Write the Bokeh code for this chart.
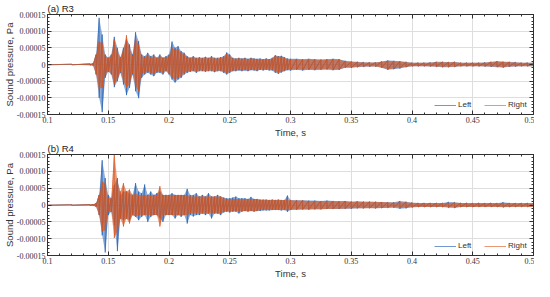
import numpy as np
from bokeh.plotting import figure
from bokeh.layouts import column
from bokeh.models import (FixedTicker, LinearAxis, Range1d, Legend, LegendItem,
                          CustomJSTickFormatter)
from bokeh.embed import file_html
from bokeh.resources import INLINE

# ---------------- data (envelope peaks, units of 1e-5 Pa) ----
SCALE = 1e-5
t_pre = [0.100, 0.120, 0.135]
t_fine = [round(v, 4) for v in np.arange(0.1375, 0.30001, 0.0025)]   # 66 read positions
t_coarse = [round(v, 3) for v in np.arange(0.305, 0.50001, 0.005)]   # 40 read positions
time = t_pre + t_fine + t_coarse

# (a) R3 - Left
a_left_up = [0.1, 0.1, 0.2,
             0.3, 3, 14, 9, 3, 2, 3, 8.3, 5, 2.2,
             5, 7.4, 6, 3, 9.7, 7, 3, 2.5, 3.5, 2.5,
             3, 2, 3, 2, 2.5, 3, 6.9, 5, 5.5, 4,
             3.5, 2.5, 2, 2.5, 2, 2.2, 2, 2.3, 2, 2.5,
             2, 2, 2.2, 2.5, 3.6, 3, 2, 1.8, 2, 1.8,
             2, 1.7, 2, 1.8, 1.7, 1.8, 1.6, 1.8, 1.6, 2,
             2.8, 2.5, 2.6, 2.2, 1.8, 1.7,
             1.7, 1.6, 1.7, 1.6, 1.5, 1.6, 1.7, 1.6, 1.1, 0.9,
             0.8, 0.7, 0.6, 0.6, 0.9, 1.2, 1.1, 1.0, 0.8, 0.5,
             0.5, 0.5, 0.6, 0.8, 0.8, 0.7, 0.8, 0.5, 0.5, 0.5,
             0.5, 0.6, 0.8, 1.0, 0.8, 0.8, 0.7, 0.5, 0.5, 0.5]
a_left_lo = [-0.1, -0.1, -0.2,
             -0.3, -3, -10, -14.3, -4, -2.2, -3, -6.8, -5, -2.5,
             -6, -9.2, -7, -3, -8, -10.1, -4, -3, -2.5, -3,
             -3.5, -2.5, -2.5, -3, -2, -3, -4.5, -5.4, -4.5, -4,
             -3, -2.5, -2.2, -2, -2.5, -2, -2, -2.2, -2, -2,
             -2.3, -2, -2, -2.5, -3, -2.5, -2, -2, -1.8, -2,
             -1.8, -2, -1.7, -1.8, -2, -1.6, -1.8, -1.6, -1.8, -1.8,
             -2.5, -2.8, -2.4, -2, -1.7, -1.8,
             -1.6, -1.8, -1.6, -1.7, -1.6, -1.5, -1.7, -1.6, -1.0, -1.0,
             -0.8, -0.7, -0.6, -0.6, -1.0, -1.6, -1.4, -1.2, -0.8, -0.5,
             -0.5, -0.5, -0.6, -0.7, -0.8, -0.8, -0.7, -0.5, -0.5, -0.5,
             -0.5, -0.6, -0.7, -0.8, -0.9, -0.7, -0.6, -0.5, -0.5, -0.5]
# (a) R3 - Right
a_right_up = [0.1, 0.1, 0.2,
              0.3, 3, 6.9, 6.5, 2.5, 2, 2.5, 7.5, 4, 2,
              4.5, 8.8, 5, 2.5, 8, 6, 2.5, 2.2, 3, 2.2,
              2.5, 2, 2.5, 2, 2.2, 2.5, 5, 4.5, 4.5, 3.5,
              3, 2.2, 2, 2.2, 1.8, 2, 1.8, 2, 1.8, 2.2,
              1.8, 1.8, 2, 2.2, 3.2, 2.6, 1.8, 1.7, 1.8, 1.7,
              1.8, 1.6, 1.8, 1.7, 1.6, 1.6, 1.5, 1.7, 1.5, 1.8,
              2.6, 2.3, 2.4, 2, 1.6, 1.6,
              1.6, 1.5, 1.6, 1.5, 1.4, 1.5, 1.6, 1.5, 1.0, 0.8,
              0.7, 0.6, 0.6, 0.6, 0.8, 1.1, 1.0, 0.9, 0.7, 0.5,
              0.5, 0.5, 0.5, 0.7, 0.7, 0.7, 0.7, 0.5, 0.5, 0.5,
              0.5, 0.5, 0.7, 0.9, 0.8, 0.7, 0.6, 0.5, 0.5, 0.5]
a_right_lo = [-0.1, -0.1, -0.2,
              -0.3, -3, -7.3, -7, -3, -2, -2.5, -6, -4.5, -2.2,
              -5, -7, -6, -2.5, -6.5, -8, -3, -2.5, -2.2, -2.5,
              -3, -2.2, -2.2, -2.5, -1.8, -2.5, -4, -4.5, -4, -3.5,
              -2.5, -2.2, -2, -1.8, -2.2, -1.8, -1.8, -2, -1.8, -1.8,
              -2, -1.8, -1.8, -2.2, -2.6, -2.2, -1.8, -1.8, -1.6, -1.8,
              -1.6, -1.8, -1.6, -1.6, -1.8, -1.5, -1.6, -1.5, -1.6, -1.6,
              -2.2, -2.5, -2.2, -1.8, -1.6, -1.6,
              -1.5, -1.6, -1.5, -1.5, -1.5, -1.4, -1.5, -1.5, -0.9, -0.9,
              -0.7, -0.6, -0.6, -0.6, -0.9, -1.4, -1.2, -1.0, -0.7, -0.5,
              -0.5, -0.5, -0.5, -0.6, -0.7, -0.7, -0.7, -0.5, -0.5, -0.5,
              -0.5, -0.5, -0.6, -0.7, -0.8, -0.6, -0.5, -0.5, -0.5, -0.5]
# (b) R4 - Left
b_left_up = [0.1, 0.1, 0.15,
             0.2, 0.5, 3, 13.3, 8, 3, 2, 6, 8, 3,
             4, 4, 3.5, 3, 6.5, 4, 3.5, 6.1, 3, 4,
             3, 3.5, 4, 3, 3, 3, 3.5, 3, 3, 3,
             3, 4.8, 3, 3, 3.5, 2.5, 3, 2.5, 3.5, 2.5,
             2.5, 3, 2.5, 2.2, 2, 2, 2.2, 2.5, 2, 2,
             2, 1.8, 2.4, 1.8, 1.8, 1.6, 1.6, 1.6, 1.5, 1.6,
             1.5, 1.6, 1.5, 1.5, 2.8, 1.5,
             1.4, 1.4, 1.3, 1.3, 1.2, 1.3, 1.2, 1.1, 1.2, 1.0,
             1.1, 1.0, 1.0, 0.9, 0.9, 0.8, 0.8, 1.2, 1.0, 0.7,
             0.6, 0.6, 0.6, 0.6, 0.6, 0.9, 0.8, 0.6, 0.6, 0.5,
             0.6, 0.5, 0.6, 0.5, 0.8, 0.6, 0.5, 0.5, 0.5, 0.5]
b_left_lo = [-0.1, -0.1, -0.15,
             -0.2, -0.5, -3, -9, -14.1, -3, -2, -6, -13.7, -4,
             -4.5, -4, -4.5, -3, -3.5, -4.5, -3.5, -3, -5, -3.5,
             -3, -3, -4, -5, -3, -3, -3, -4, -3, -3.5,
             -3, -5.5, -3, -3.4, -3, -3, -2.5, -3, -2.5, -4,
             -2.5, -2.5, -3, -2.2, -2, -2.2, -2, -2, -2.5, -2,
             -1.8, -2, -1.8, -2, -1.8, -1.8, -1.6, -1.6, -1.6, -1.5,
             -1.5, -1.5, -1.6, -1.5, -2, -1.5,
             -1.4, -1.3, -1.4, -1.3, -1.3, -1.2, -1.2, -1.2, -1.1, -1.1,
             -1.0, -1.0, -0.9, -1.0, -0.9, -0.8, -0.8, -1.1, -1.0, -0.7,
             -0.6, -0.6, -0.6, -0.6, -0.6, -0.8, -0.9, -0.6, -0.6, -0.6,
             -0.5, -0.5, -0.5, -0.6, -0.7, -0.6, -0.5, -0.5, -0.5, -0.5]
# (b) R4 - Right
b_right_up = [0.1, 0.1, 0.15,
              0.2, 0.5, 3, 7, 6.5, 2, 2, 15.5, 7, 4,
              6.5, 4, 4.6, 3, 3.5, 3, 3, 3, 3, 3,
              3, 3, 5.6, 3, 3, 3, 3, 3, 3, 3,
              3, 3, 2.5, 2.5, 2.5, 2.5, 2.5, 2.5, 2.5, 2.5,
              2.5, 2.5, 2.5, 2, 1.8, 1.8, 1.8, 1.8, 1.8, 1.8,
              1.8, 1.8, 1.8, 1.8, 1.8, 1.5, 1.5, 1.5, 1.5, 1.5,
              1.5, 1.5, 1.5, 1.5, 1.5, 1.4,
              1.3, 1.3, 1.2, 1.2, 1.2, 1.2, 1.2, 1.1, 1.1, 1.0,
              1.0, 1.0, 1.0, 1.0, 0.9, 0.8, 0.7, 0.8, 0.8, 0.7,
              0.6, 0.6, 0.6, 0.6, 0.6, 0.6, 0.7, 0.6, 0.6, 0.6,
              0.6, 0.6, 0.6, 0.6, 0.6, 0.6, 0.6, 0.6, 0.6, 0.6]
b_right_lo = [-0.1, -0.1, -0.15,
              -0.2, -0.5, -3, -7.9, -7.5, -2, -2, -9.8, -8, -4,
              -6.4, -4, -5.5, -3, -3.5, -3, -3, -3, -3, -3,
              -3, -3, -6.4, -3, -3, -3, -3, -3, -3, -3,
              -3, -3, -2.5, -2.5, -2.5, -2.5, -2.5, -2.5, -2.5, -2.5,
              -2.5, -2.5, -2.5, -2, -1.8, -1.8, -1.8, -1.8, -1.8, -1.8,
              -1.8, -1.8, -1.8, -1.8, -1.8, -1.5, -1.5, -1.5, -1.5, -1.5,
              -1.5, -1.5, -1.5, -1.5, -1.5, -1.4,
              -1.3, -1.3, -1.2, -1.2, -1.2, -1.2, -1.2, -1.1, -1.1, -1.0,
              -1.0, -1.0, -1.0, -1.0, -0.9, -0.8, -0.7, -0.8, -0.8, -0.7,
              -0.6, -0.6, -0.6, -0.6, -0.6, -0.6, -0.7, -0.6, -0.6, -0.6,
              -0.6, -0.6, -0.6, -0.6, -0.6, -0.6, -0.6, -0.6, -0.6, -0.6]

x_ticks = [0.1, 0.15, 0.2, 0.25, 0.3, 0.35, 0.4, 0.45, 0.5]
x_labels = ["0.1", "0.15", "0.2", "0.25", "0.3", "0.35", "0.4", "0.45", "0.5"]
y_ticks = [-0.00015, -0.0001, -0.00005, 0, 0.00005, 0.0001, 0.00015]
y_labels = ["-0.00015", "-0.00010", "-0.00005", "0", "0.00005", "0.00010", "0.00015"]
series_names = ["Left", "Right"]
panel_titles = ["(a) R3", "(b) R4"]

BLUE = "#1f5fb4"
ORANGE = "#d95319"
AXC = "#303030"
SANS = "Liberation Sans"
SERIF = "Liberation Serif"

x_minor = [round(0.1 + 0.01 * i, 3) for i in range(41)]
y_minor = [round(-0.00015 + 0.00001 * i, 6) for i in range(31)]

def fmt(tk, lb):
    return CustomJSTickFormatter(args=dict(tk=tk, lb=lb), code="""
        let b = 0;
        for (let i = 0; i < tk.length; i++) {
            if (Math.abs(tk[i] - tick) < Math.abs(tk[b] - tick)) b = i;
        }
        return lb[b];
    """)

BLANK = CustomJSTickFormatter(code="return '';")

def style_axis(ax, show_labels):
    ax.major_tick_in = 4
    ax.major_tick_out = 0
    ax.minor_tick_in = 2
    ax.minor_tick_out = 0
    ax.axis_line_color = AXC
    ax.major_tick_line_color = AXC
    ax.minor_tick_line_color = AXC
    if not show_labels:
        ax.formatter = BLANK
        ax.major_label_standoff = 0

def zig(up, lo):
    n = len(time)
    assert len(up) == n and len(lo) == n, (len(up), len(lo), n)
    xs = np.repeat(np.array(time), 2)
    ys = np.empty(2 * n)
    ys[0::2] = np.array(up) * SCALE
    ys[1::2] = np.array(lo) * SCALE
    return xs, ys

def panel(title, l_up, l_lo, r_up, r_lo, height):
    p = figure(width=534, height=height, x_range=Range1d(0.1, 0.5),
               y_range=Range1d(-0.00015, 0.00015), output_backend="svg",
               toolbar_location=None, title=title,
               min_border_left=0, min_border_right=1, min_border_top=0,
               min_border_bottom=0)
    p.title.text_font = SANS
    p.title.text_font_size = "9.5px"
    p.title.text_font_style = "normal"
    p.title.text_color = "#222222"
    p.title.standoff = 1
    p.outline_line_color = AXC

    xt = FixedTicker(ticks=x_ticks, minor_ticks=x_minor)
    yt = FixedTicker(ticks=y_ticks, minor_ticks=y_minor)
    p.xaxis.ticker = xt
    p.yaxis.ticker = yt
    p.xaxis.formatter = fmt(x_ticks, x_labels)
    p.yaxis.formatter = fmt(y_ticks, y_labels)
    for ax in (p.xaxis[0], p.yaxis[0]):
        style_axis(ax, True)
        ax.major_label_text_font = SERIF
        ax.major_label_text_font_size = "8px"
        ax.major_label_text_color = "#333333"
        ax.major_label_standoff = 2
        ax.axis_label_text_font = SANS
        ax.axis_label_text_font_size = "9.5px"
        ax.axis_label_text_font_style = "normal"
        ax.axis_label_text_color = "#333333"
        ax.axis_label_standoff = 1
    p.xaxis.axis_label = "Time, s"
    p.yaxis.axis_label = "Sound pressure, Pa"
    p.yaxis.axis_label_standoff = -1

    top = LinearAxis(ticker=xt)
    right = LinearAxis(ticker=yt)
    style_axis(top, False)
    style_axis(right, False)
    p.add_layout(top, "above")
    p.add_layout(right, "right")

    p.xgrid.grid_line_color = "#dedede"
    p.ygrid.grid_line_color = "#dedede"
    p.xgrid.grid_line_width = 1
    p.ygrid.grid_line_width = 1

    t_arr = np.array(time)
    p.varea(x=t_arr, y1=np.array(l_lo) * SCALE, y2=np.array(l_up) * SCALE,
            fill_color=BLUE, fill_alpha=0.5)
    xs, ys = zig(l_up, l_lo)
    lr = p.line(xs, ys, line_color=BLUE, line_width=0.8, line_alpha=0.8)

    p.varea(x=t_arr, y1=np.array(r_lo) * SCALE, y2=np.array(r_up) * SCALE,
            fill_color=ORANGE, fill_alpha=0.6)
    xs, ys = zig(r_up, r_lo)
    rr = p.line(xs, ys, line_color=ORANGE, line_width=0.8, line_alpha=0.75)

    leg = Legend(items=[LegendItem(label=series_names[0], renderers=[lr]),
                        LegendItem(label=series_names[1], renderers=[rr])],
                 orientation="horizontal", location="bottom_right",
                 border_line_alpha=0, background_fill_alpha=0,
                 label_text_font=SANS, label_text_font_size="8px",
                 label_text_color="#333333",
                 glyph_width=22, glyph_height=8, label_standoff=2,
                 spacing=6, padding=2, margin=3)
    p.add_layout(leg)
    return p

p1 = panel(panel_titles[0], a_left_up, a_left_lo, a_right_up, a_right_lo, 140)
p2 = panel(panel_titles[1], b_left_up, b_left_lo, b_right_up, b_right_lo, 141)
p = column(p1, p2)

open("out.html", "w").write(file_html(p, INLINE))
